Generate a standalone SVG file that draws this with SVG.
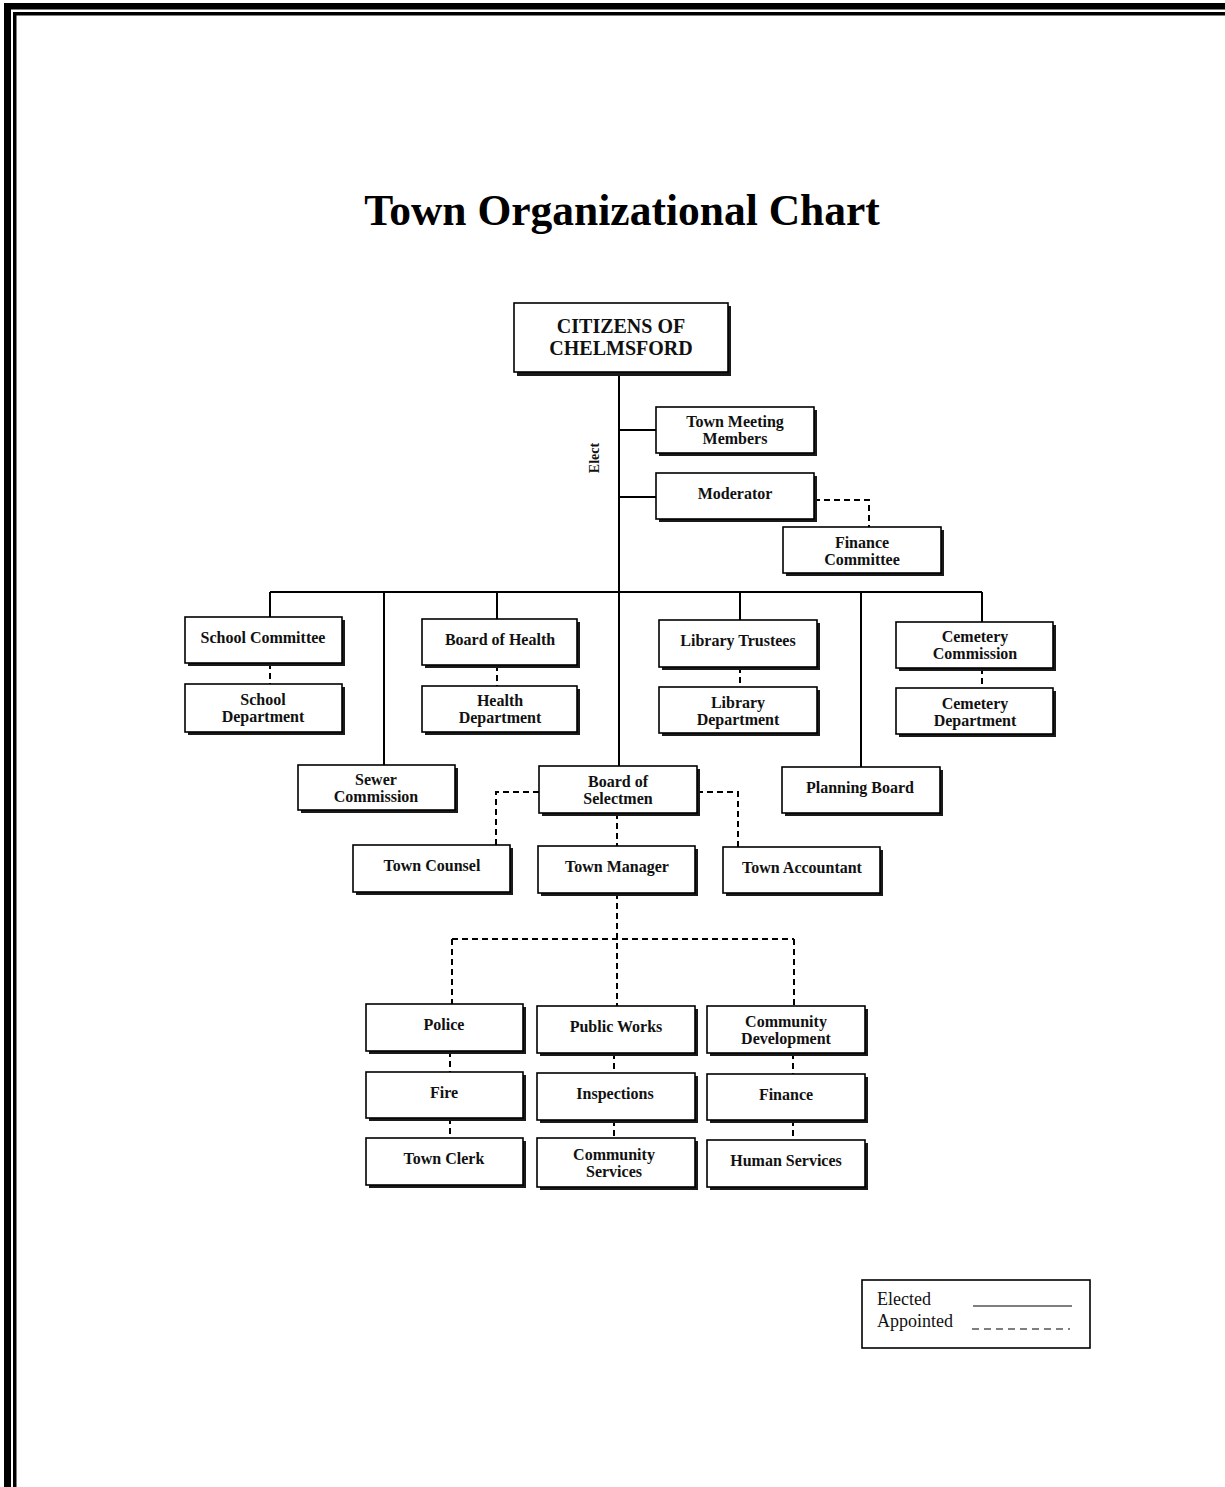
<svg xmlns="http://www.w3.org/2000/svg" width="1225" height="1487" viewBox="0 0 1225 1487">
<style>
.sh{fill:#1a1a1a}
.bx{fill:#fff;stroke:#000;stroke-width:1.6}
.t{font-family:"Liberation Serif","Times New Roman",serif;font-weight:bold;font-size:16px;text-anchor:middle;fill:#111}
.big{font-size:20px}
.solid{fill:none;stroke:#000;stroke-width:2}
.dash{fill:none;stroke:#000;stroke-width:2;stroke-dasharray:6 4}
.lg{font-family:"Liberation Serif","Times New Roman",serif;font-size:18px;fill:#111}
</style>
<rect width="1225" height="1487" fill="#fff"/>
<!-- page frame -->
<g id="frame" fill="#000">
<rect x="4" y="3" width="1221" height="6.5"/>
<rect x="4" y="3" width="7" height="1484"/>
<rect x="13" y="12" width="1212" height="3.5"/>
<rect x="13" y="12" width="3.5" height="1475"/>
</g>
<text x="622" y="225" style="font-family:'Liberation Serif','Times New Roman',serif;font-weight:bold;font-size:43.5px;text-anchor:middle;fill:#000">Town Organizational Chart</text>

<g id="connectors">
<path class="solid" d="M619 372V766M619 430H656M619 497H656M270 592H982M270 592V617M384 592V765M497 592V619M740 592V620M861 592V767M982 592V622"/>
<path class="dash" d="M814 500H869V527M270 663V684M497 665V686M740 667V687M982 668V688M539 792H496V845M697 792H738V847M617 813V846M617 893V1006M452 939H794M452 939V1004M794 939V1006M450 1051V1072M450 1118V1138M614 1053V1073M614 1120V1138M793 1053V1074M793 1120V1140"/>
<text x="0" y="0" transform="translate(599 458) rotate(-90)" style="font-family:'Liberation Serif','Times New Roman',serif;font-weight:bold;font-size:14px;text-anchor:middle;fill:#111">Elect</text>
</g>

<g id="citizens"><rect class="sh" x="517" y="306" width="214" height="70"/><rect class="bx" x="514" y="303" width="214" height="69"/><text class="t big" x="621" y="333">CITIZENS OF</text><text class="t big" x="621" y="355">CHELMSFORD</text></g>
<g id="town-meeting"><rect class="sh" x="659" y="410" width="158" height="46"/><rect class="bx" x="656" y="407" width="158" height="46"/><text class="t" x="735" y="427">Town Meeting</text><text class="t" x="735" y="444">Members</text></g>
<g id="moderator"><rect class="sh" x="659" y="476" width="158" height="46"/><rect class="bx" x="656" y="473" width="158" height="46"/><text class="t" x="735" y="499">Moderator</text></g>
<g id="finance-committee"><rect class="sh" x="786" y="530" width="158" height="46"/><rect class="bx" x="783" y="527" width="158" height="46"/><text class="t" x="862" y="548">Finance</text><text class="t" x="862" y="565">Committee</text></g>

<g id="school-committee"><rect class="sh" x="188" y="620" width="157" height="46"/><rect class="bx" x="185" y="617" width="157" height="46"/><text class="t" x="263" y="643">School Committee</text></g>
<g id="school-department"><rect class="sh" x="188" y="687" width="157" height="48"/><rect class="bx" x="185" y="684" width="157" height="48"/><text class="t" x="263" y="705">School</text><text class="t" x="263" y="722">Department</text></g>
<g id="board-of-health"><rect class="sh" x="425" y="622" width="155" height="46"/><rect class="bx" x="422" y="619" width="155" height="46"/><text class="t" x="500" y="645">Board of Health</text></g>
<g id="health-department"><rect class="sh" x="425" y="689" width="155" height="46"/><rect class="bx" x="422" y="686" width="155" height="46"/><text class="t" x="500" y="706">Health</text><text class="t" x="500" y="723">Department</text></g>
<g id="library-trustees"><rect class="sh" x="662" y="623" width="158" height="47"/><rect class="bx" x="659" y="620" width="158" height="47"/><text class="t" x="738" y="646">Library Trustees</text></g>
<g id="library-department"><rect class="sh" x="662" y="690" width="158" height="46"/><rect class="bx" x="659" y="687" width="158" height="46"/><text class="t" x="738" y="708">Library</text><text class="t" x="738" y="725">Department</text></g>
<g id="cemetery-commission"><rect class="sh" x="899" y="625" width="157" height="46"/><rect class="bx" x="896" y="622" width="157" height="46"/><text class="t" x="975" y="642">Cemetery</text><text class="t" x="975" y="659">Commission</text></g>
<g id="cemetery-department"><rect class="sh" x="899" y="691" width="157" height="46"/><rect class="bx" x="896" y="688" width="157" height="46"/><text class="t" x="975" y="709">Cemetery</text><text class="t" x="975" y="726">Department</text></g>

<g id="sewer-commission"><rect class="sh" x="301" y="768" width="157" height="45"/><rect class="bx" x="298" y="765" width="157" height="45"/><text class="t" x="376" y="785">Sewer</text><text class="t" x="376" y="802">Commission</text></g>
<g id="board-of-selectmen"><rect class="sh" x="542" y="769" width="158" height="47"/><rect class="bx" x="539" y="766" width="158" height="47"/><text class="t" x="618" y="787">Board of</text><text class="t" x="618" y="804">Selectmen</text></g>
<g id="planning-board"><rect class="sh" x="785" y="770" width="158" height="46"/><rect class="bx" x="782" y="767" width="158" height="46"/><text class="t" x="860" y="793">Planning Board</text></g>

<g id="town-counsel"><rect class="sh" x="356" y="848" width="157" height="47"/><rect class="bx" x="353" y="845" width="157" height="47"/><text class="t" x="432" y="871">Town Counsel</text></g>
<g id="town-manager"><rect class="sh" x="541" y="849" width="157" height="47"/><rect class="bx" x="538" y="846" width="157" height="47"/><text class="t" x="617" y="872">Town Manager</text></g>
<g id="town-accountant"><rect class="sh" x="726" y="850" width="157" height="46"/><rect class="bx" x="723" y="847" width="157" height="46"/><text class="t" x="802" y="873">Town Accountant</text></g>

<g id="police"><rect class="sh" x="369" y="1007" width="157" height="47"/><rect class="bx" x="366" y="1004" width="157" height="47"/><text class="t" x="444" y="1030">Police</text></g>
<g id="public-works"><rect class="sh" x="540" y="1009" width="158" height="47"/><rect class="bx" x="537" y="1006" width="158" height="47"/><text class="t" x="616" y="1032">Public Works</text></g>
<g id="community-development"><rect class="sh" x="710" y="1009" width="158" height="47"/><rect class="bx" x="707" y="1006" width="158" height="47"/><text class="t" x="786" y="1027">Community</text><text class="t" x="786" y="1044">Development</text></g>
<g id="fire"><rect class="sh" x="369" y="1075" width="157" height="46"/><rect class="bx" x="366" y="1072" width="157" height="46"/><text class="t" x="444" y="1098">Fire</text></g>
<g id="inspections"><rect class="sh" x="540" y="1076" width="158" height="47"/><rect class="bx" x="537" y="1073" width="158" height="47"/><text class="t" x="615" y="1099">Inspections</text></g>
<g id="finance"><rect class="sh" x="710" y="1077" width="158" height="46"/><rect class="bx" x="707" y="1074" width="158" height="46"/><text class="t" x="786" y="1100">Finance</text></g>
<g id="town-clerk"><rect class="sh" x="369" y="1141" width="157" height="47"/><rect class="bx" x="366" y="1138" width="157" height="47"/><text class="t" x="444" y="1164">Town Clerk</text></g>
<g id="community-services"><rect class="sh" x="540" y="1141" width="158" height="49"/><rect class="bx" x="537" y="1138" width="158" height="49"/><text class="t" x="614" y="1160">Community</text><text class="t" x="614" y="1177">Services</text></g>
<g id="human-services"><rect class="sh" x="710" y="1143" width="158" height="47"/><rect class="bx" x="707" y="1140" width="158" height="47"/><text class="t" x="786" y="1166">Human Services</text></g>

<g id="legend">
<rect x="862" y="1280" width="228" height="68" fill="#fff" stroke="#000" stroke-width="1.6"/>
<text class="lg" x="877" y="1305">Elected</text>
<text class="lg" x="877" y="1327">Appointed</text>
<line x1="973" y1="1306" x2="1072" y2="1306" stroke="#000" stroke-width="1.2"/>
<line x1="972" y1="1329" x2="1070" y2="1329" stroke="#000" stroke-width="1.2" stroke-dasharray="7 5"/>
</g>
</svg>
